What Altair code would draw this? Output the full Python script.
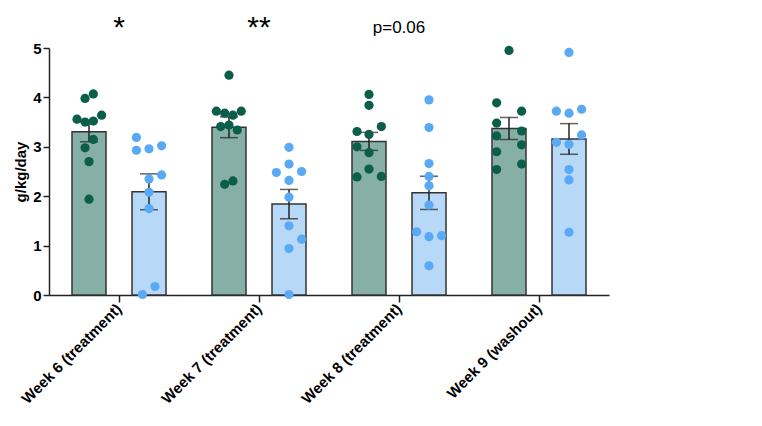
import altair as alt
import pandas as pd

weeks = ["Week 6 (treatment)", "Week 7 (treatment)", "Week 8 (treatment)", "Week 9 (washout)"]
groups = ["Placebo", "Semaglutide"]

placebo = [
    [4.07, 3.98, 3.56, 3.50, 3.52, 3.64, 3.15, 2.98, 2.70, 1.94],
    [4.45, 3.72, 3.68, 3.64, 3.72, 3.41, 3.44, 3.34, 2.24, 2.31],
    [4.06, 3.84, 3.41, 3.25, 2.88, 2.55, 2.40, 3.31, 3.00, 2.39],
    [4.95, 3.89, 3.72, 3.48, 3.32, 3.22, 3.04, 2.90, 2.54, 2.65],
]
semaglutide = [
    [3.19, 2.93, 2.96, 3.02, 2.43, 2.35, 2.08, 1.75, 0.17, 0.01],
    [2.99, 2.65, 2.48, 2.50, 2.32, 1.98, 1.40, 1.13, 0.94, 0.01],
    [3.95, 3.39, 2.66, 2.40, 2.21, 1.82, 1.28, 1.18, 1.20, 0.59],
    [4.91, 3.72, 3.68, 3.76, 3.09, 3.05, 3.24, 2.54, 2.33, 1.27],
]
# horizontal scatter slot of each dot (dot widths)
placebo_jit = [
    [0.36, -0.33, -1, -0.33, 0.36, 1.05, 0.36, -0.33, 0, 0],
    [0, -1.05, -0.36, 0.33, 1.02, -0.69, 0, 0.69, -0.36, 0.33],
    [0, 0, 1.03, 0, 0, 0, 1.03, -1, -1, -1],
    [0, -1.03, 1.05, -1.03, 1.05, -1.03, 1.05, -1.03, -1.03, 1.05],
]
sema_jit = [
    [-1.05, -1.05, 0, 1.05, 1.05, 0, 0, 0, 0.5, -0.55],
    [0, 0, -1.05, 1.05, 0, 0, 0, 1.05, 0, 0],
    [0, 0, 0, 0, 0, 0, -1.03, 0, 1.05, 0],
    [0, -1.05, 0, 1.05, -1.05, 0, 1.05, 0, 0, 0],
]
sig_labels = ["*", "**", "p=0.06", ""]

rows = []
for gi, (vals, jits) in enumerate([(placebo, placebo_jit), (semaglutide, sema_jit)]):
    for wi, w in enumerate(weeks):
        for v, j in zip(vals[wi], jits[wi]):
            rows.append({"week": w, "group": groups[gi], "value": v, "jit": j,
                         "side": -1 if gi == 0 else 1})
df = pd.DataFrame(rows)
sig = pd.DataFrame({"week": weeks, "label": sig_labels})

x = alt.X("week:N", sort=weeks, title=None,
          scale=alt.Scale(paddingInner=0, paddingOuter=0),
          axis=alt.Axis(labelAngle=-45, labelAlign="right", labelBaseline="middle",
                        labelFontSize=15, labelFontWeight="bold", labelColor="black",
                        domainColor="#222", domainWidth=1.5, tickColor="#222",
                        tickWidth=1.5, tickSize=7, labelPadding=4))
y_axis = alt.Axis(values=[0, 1, 2, 3, 4, 5], grid=False, labelFontSize=15,
                  labelFontWeight="bold", labelColor="black", titleFontSize=15,
                  titleColor="black", domainColor="#222", domainWidth=1.5,
                  tickColor="#222", tickWidth=1.5, tickSize=6)
y_scale = alt.Scale(domain=[0, 5], nice=False)
xoff = alt.XOffset("group:N", sort=groups,
                   scale=alt.Scale(paddingInner=0.433, paddingOuter=0.383))

base = alt.Chart(df)
bars = base.mark_bar(size=34, stroke="#333", strokeWidth=1.5).encode(
    x=x, xOffset=xoff,
    y=alt.Y("mean(value):Q", title="g/kg/day", scale=y_scale, axis=y_axis),
    fill=alt.Fill("group:N", scale=alt.Scale(domain=groups, range=["#86b0a6", "#b8d8f8"]), legend=None),
)
err = base.mark_errorbar(extent="stderr", ticks={"size": 18, "color": "#222"},
                         color="#222", thickness=1.5).encode(
    x=x, xOffset=xoff, y=alt.Y("value:Q", title="g/kg/day", scale=y_scale),
)
pts = base.mark_circle(size=85, opacity=1).transform_calculate(
    off="datum.side * 30 + datum.jit * 12"
).encode(
    x=x,
    xOffset=alt.XOffset("off:Q", scale=alt.Scale(domain=[-70, 70], range=[0, 140])),
    y=alt.Y("value:Q", title="g/kg/day", scale=y_scale),
    color=alt.Color("group:N", scale=alt.Scale(domain=groups, range=["#0b5e4a", "#5aa9f5"]),
                    legend=alt.Legend(title=None, labelFontSize=16, symbolSize=120,
                                      labelColor="black", rowPadding=14, offset=10,
                                      orient="right")),
)
text = alt.Chart(sig).mark_text(color="black").encode(
    x=x, y=alt.value(-20), text="label:N",
    size=alt.condition("datum.label == 'p=0.06'", alt.value(17), alt.value(30)),
)

chart = alt.layer(bars, err, pts, text).resolve_scale(xOffset="independent").properties(
    width=560, height=247
).configure(font="Arial").configure_view(stroke=None)

chart.save("out.html", embed_options={"renderer": "svg", "actions": False})
